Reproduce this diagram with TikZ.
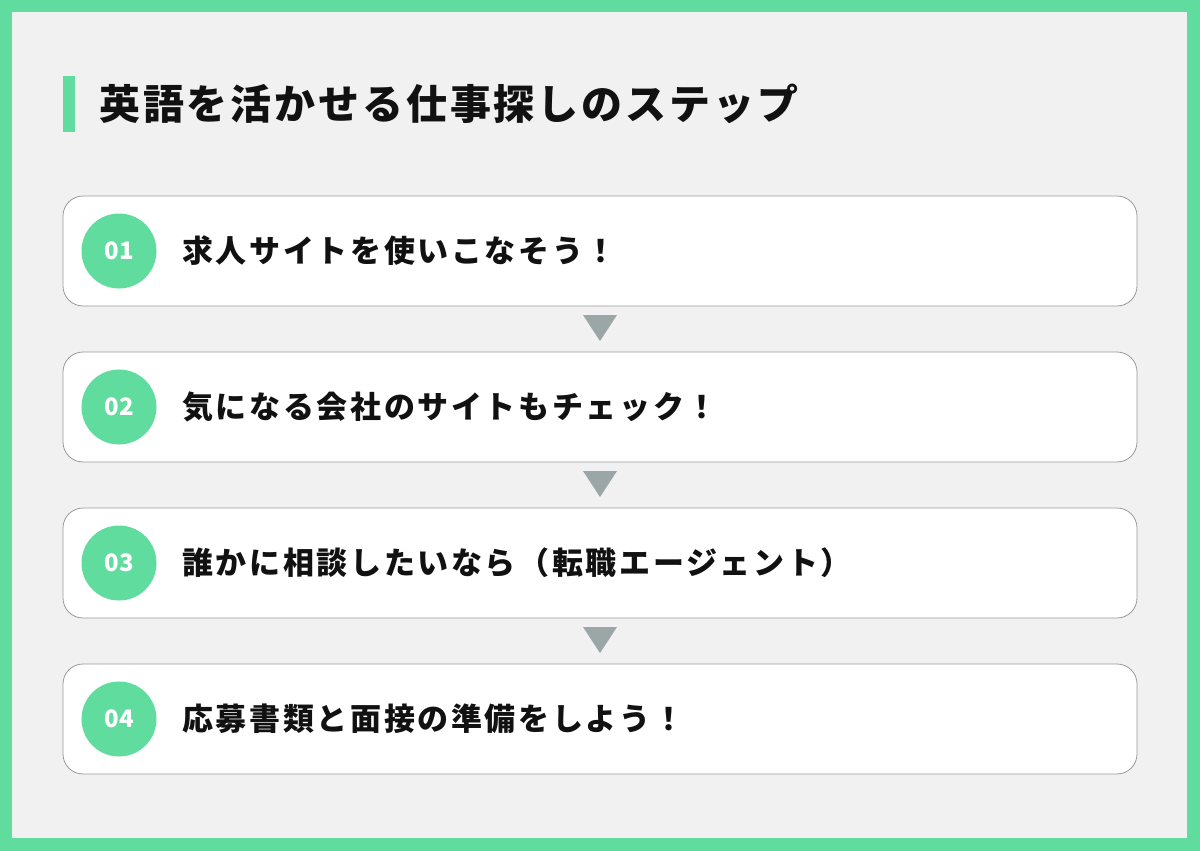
\documentclass[tikz,border=0pt]{standalone}
\usepackage{fontspec}
\newfontfamily\jp{Noto Sans CJK JP}
\newfontfamily\jpsp[LetterSpace=8.5]{Noto Sans CJK JP}
\newfontfamily\jptitle[LetterSpace=7]{Noto Sans CJK JP}
\definecolor{accent}{HTML}{60DD9E}
\definecolor{pagebg}{HTML}{F1F1F1}
\definecolor{boxline}{HTML}{9A9A9A}
\definecolor{arrowgray}{HTML}{9BA7A7}
\definecolor{ink}{HTML}{111111}
\tikzset{
  stepbox/.style={draw=boxline, line width=0.8pt, fill=white, rounded corners=20pt},
  numcircle/.style={circle, fill=accent, minimum size=75pt, inner sep=0pt, text=white,
    font=\jp\bfseries\fontsize{24}{24}\selectfont},
  steptext/.style={anchor=west, inner sep=0pt, text=ink, font=\jpsp\bfseries\fontsize{31}{31}\selectfont},
  downtri/.style={fill=arrowgray},
}
\begin{document}
\begin{tikzpicture}[x=1pt,y=-1pt]
\useasboundingbox (0,0) rectangle (1200,851);
\fill[accent] (0,0) rectangle (1200,851);
\fill[pagebg] (12,12) rectangle (1187,838);
% title
\fill[accent] (63,76) rectangle (75,132);
\node[anchor=west, inner sep=0pt, text=ink, font=\jptitle\bfseries\fontsize{41}{41}\selectfont] (title) at (99,104) {英語を活かせる仕事探しのステップ};
% boxes
\foreach \i/\t/\n in {1/196/01, 2/352/02, 3/508/03, 4/664/04}{
  \draw[stepbox] (63,\t) rectangle (1137,\t+110);
  \node[numcircle] (c\i) at (119,\t+55) {\n};
}
\node[steptext] (t1) at (182,251) {求人サイトを使いこなそう！};
\node[steptext] (t2) at (182,407) {気になる会社のサイトもチェック！};
\node[steptext] (t3) at (182,563) {誰かに相談したいなら（転職エージェント）};
\node[steptext] (t4) at (182,719) {応募書類と面接の準備をしよう！};
% arrows
\foreach \b in {306,462,618}{
  \fill[downtri] (583,\b+9) -- (617,\b+9) -- (600,\b+35) -- cycle;
}
\end{tikzpicture}
\end{document}
